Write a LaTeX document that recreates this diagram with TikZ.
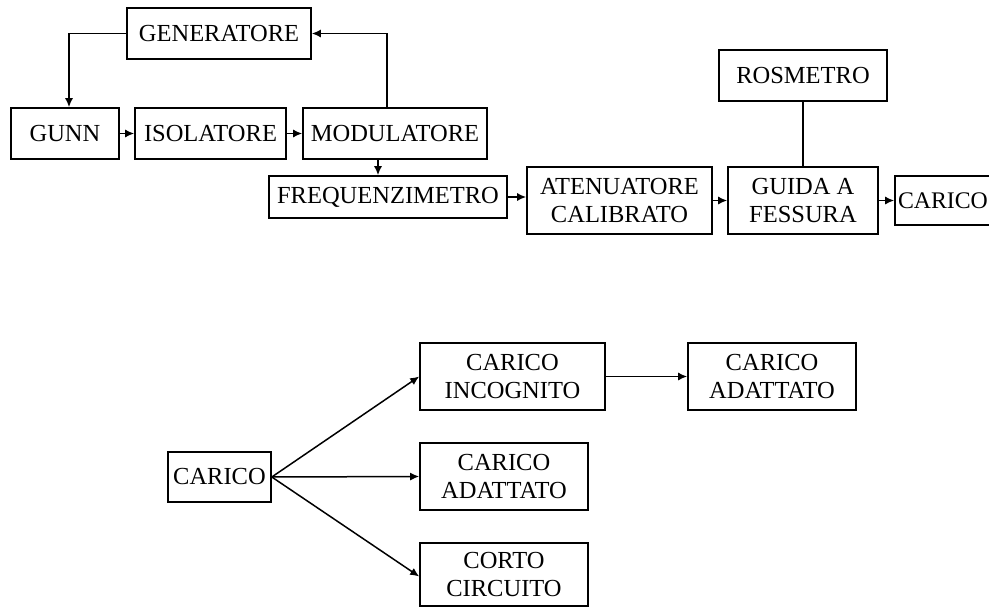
\documentclass[tikz,border=0pt]{standalone}
\usepackage{fontspec}
\setmainfont{Liberation Serif}
\usetikzlibrary{arrows.meta}
\tikzset{
  box/.style={draw, line width=1.6pt, rectangle, inner sep=0pt, align=center,
    font=\fontsize{24.5}{28}\selectfont},
  arr/.style={line width=1.5pt, -{Latex[length=9pt,width=8pt]}},
  ln/.style={line width=1.5pt}
}
\begin{document}
\begin{tikzpicture}[x=1pt,y=-1pt]
\useasboundingbox[fill=white] (0,0) rectangle (989,608);
% upper chain
\node[box, minimum width=184, minimum height=51] (gen) at (219,33.5) {GENERATORE};
\node[box, minimum width=108, minimum height=51] (gunn) at (65,133.5) {GUNN};
\node[box, minimum width=151, minimum height=51] (iso) at (210.5,133.5) {ISOLATORE};
\node[box, minimum width=184, minimum height=51] (mod) at (395,133.5) {MODULATORE};
\node[box, minimum width=238, minimum height=42] (freq) at (388,197) {FREQUENZIMETRO};
\node[box, minimum width=185, minimum height=67] (aten) at (619.5,200.5) {ATENUATORE\\CALIBRATO};
\node[box, minimum width=150, minimum height=67] (guida) at (803,200.5) {GUIDA A\\FESSURA};
\node[box, minimum width=168, minimum height=51] (ros) at (803,75.5) {ROSMETRO};
\node[box, minimum width=102, minimum height=49, text width=100, align=left,
  font=\fontsize{23.8}{28}\selectfont] (car1) at (946,200.5) {\hspace*{2pt}CARICO};
% lower tree
\node[box, minimum width=103, minimum height=50] (car2) at (219.5,477) {CARICO};
\node[box, minimum width=185, minimum height=67] (inc) at (512.5,376.5) {CARICO\\INCOGNITO};
\node[box, minimum width=168, minimum height=67] (ad1) at (772,376.5) {CARICO\\ADATTATO};
\node[box, minimum width=168, minimum height=67] (ad2) at (504,476.5) {CARICO\\ADATTATO};
\node[box, minimum width=168, minimum height=63] (corto) at (504,574.5) {CORTO\\CIRCUITO};
% connectors upper
\draw[arr] (gen.west) -| ([xshift=4pt]gunn.north);
\draw[arr] ([xshift=-8pt]mod.north) |- (gen.east);
\draw[arr] (gunn.east) -- (iso.west);
\draw[arr] (iso.east) -- (mod.west);
\draw[arr] ([xshift=-10pt]freq.north |- mod.south) -- ([xshift=-10pt]freq.north);
\draw[arr] (freq.east) -- (freq.east -| aten.west);
\draw[arr] (aten.east) -- (guida.west);
\draw[arr] (guida.east) -- (car1.west);
\draw[ln] (ros.south) -- (guida.north);
% connectors lower
\draw[arr] (car2.east) -- (inc.west);
\draw[arr] (car2.east) -- (ad2.west);
\draw[arr] (car2.east) -- ([yshift=-2pt]corto.west);
\draw[arr] (inc.east) -- (ad1.west);
\end{tikzpicture}
\end{document}
